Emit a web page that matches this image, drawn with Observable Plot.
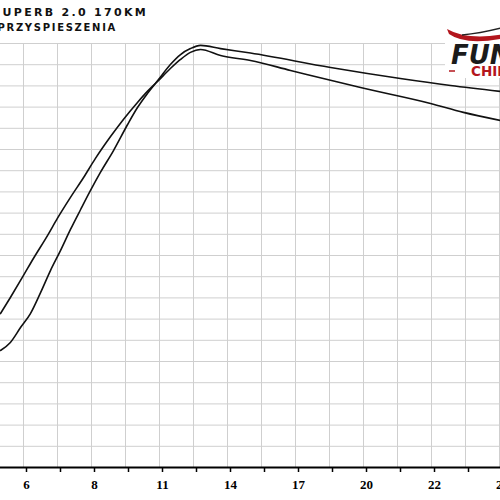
<!DOCTYPE html>
<html>
<head>
<meta charset="utf-8">
<script src="https://cdn.jsdelivr.net/npm/d3@7"></script>
<script src="https://cdn.jsdelivr.net/npm/@observablehq/plot@0.6"></script>
<style>
  html, body { margin: 0; padding: 0; background: white; overflow: hidden; }
  #chart { width: 500px; height: 500px; overflow: hidden; }
</style>
</head>
<body>
<div id="chart"></div>
<script>
// Curve 1: starts lower on the left, peaks higher
const curve1X = [4.82, 5.22, 5.63, 6.03, 6.44, 6.84, 7.25, 7.65, 8.06, 8.46, 8.86, 9.39, 9.96, 10.36, 10.76, 11.21, 11.69, 12.10, 12.50, 12.91, 13.72, 14.93, 18.17, 20.99, 23.02, 25.04];
const curve1Y = [5.52, 5.90, 6.60, 7.26, 8.25, 9.29, 10.24, 11.23, 12.17, 13.07, 13.92, 14.95, 16.18, 16.98, 17.64, 18.30, 19.01, 19.48, 19.76, 19.91, 19.76, 19.55, 18.87, 18.35, 18.02, 17.74];
// Curve 2: starts higher on the left, peaks lower
const curve2X = [4.82, 5.22, 5.75, 6.15, 6.72, 7.12, 7.65, 8.18, 8.66, 9.27, 9.79, 10.36, 10.76, 11.17, 11.69, 12.10, 12.50, 12.91, 13.72, 14.93, 16.55, 19.38, 22.21, 23.54, 25.04];
const curve2Y = [7.26, 8.02, 9.06, 9.86, 10.94, 11.75, 12.74, 13.68, 14.58, 15.61, 16.42, 17.22, 17.74, 18.21, 18.82, 19.25, 19.58, 19.72, 19.43, 19.20, 18.73, 17.92, 17.17, 16.75, 16.37];

const xGrid = [5.75, 7.125, 8.5, 9.875, 11.25, 12.625, 14, 15.375, 16.75, 18.125, 19.5, 20.875, 22.25, 23.625, 25];
const xTickValues = [5.75, 8.5, 11.25, 14, 16.75, 19.5, 22.25, 25];
const xTickLabels = ["6", "8", "11", "14", "17", "20", "22", "25"];
const yGrid = [0,1,2,3,4,5,6,7,8,9,10,11,12,13,14,15,16,17,18,19,20];

const titleText = "SKODA SUPERB 2.0 170KM";
const subtitleText = "WYKRES PRZYSPIESZENIA";

const series1 = curve1X.map((x, i) => ({x, y: curve1Y[i]}));
const series2 = curve2X.map((x, i) => ({x, y: curve2Y[i]}));
const labelMap = new Map(xTickValues.map((v, i) => [v, xTickLabels[i]]));

const plot = Plot.plot({
  width: 500,
  height: 500,
  marginTop: 43,
  marginBottom: 33,
  marginLeft: 0,
  marginRight: 0,
  x: {domain: [4.82, 25.04]},
  y: {domain: [0, 20], axis: null},
  style: {background: "white"},
  marks: [
    Plot.ruleX(xGrid, {stroke: "#cfcfcf", strokeWidth: 1}),
    Plot.ruleY(yGrid, {stroke: "#cfcfcf", strokeWidth: 1}),
    Plot.axisX({
      ticks: xGrid,
      tickSize: 5,
      tickPadding: 7,
      tickFormat: d => labelMap.get(d) ?? "",
      stroke: "black",
      strokeWidth: 1.5,
      fill: "black",
      fontSize: 13,
      fontWeight: "bold",
      fontFamily: "Liberation Serif",
      dx: 3,
      label: null
    }),
    Plot.ruleY([0], {stroke: "black", strokeWidth: 2}),
    Plot.line(series1, {x: "x", y: "y", stroke: "#111", strokeWidth: 1.6, curve: "monotone-x", clip: true}),
    Plot.line(series2, {x: "x", y: "y", stroke: "#111", strokeWidth: 1.6, curve: "monotone-x", clip: true})
  ]
});

document.getElementById("chart").appendChild(plot);

const svg = d3.select(plot);
svg.append("text")
  .attr("x", 148).attr("y", 15.5)
  .attr("text-anchor", "end")
  .attr("font-family", "DejaVu Sans")
  .attr("font-weight", "bold")
  .attr("font-size", 11)
  .attr("letter-spacing", 2.3)
  .attr("fill", "#111")
  .text(titleText);
svg.append("text")
  .attr("x", 117).attr("y", 30.5)
  .attr("text-anchor", "end")
  .attr("font-family", "DejaVu Sans")
  .attr("font-weight", "bold")
  .attr("font-size", 10)
  .attr("letter-spacing", 1.7)
  .attr("fill", "#111")
  .text(subtitleText);

// Logo
const logo = svg.append("g");
logo.append("rect").attr("x", 445).attr("y", 24).attr("width", 60).attr("height", 54).attr("fill", "white");
logo.append("path").attr("d", "M447,29 Q468,41 505,34 L505,38 Q466,46 449,34 Z").attr("fill", "#b3161d");
logo.append("path").attr("d", "M462,35 Q482,33 505,27").attr("stroke", "#222").attr("stroke-width", 1.5).attr("fill", "none");
logo.append("text")
  .attr("x", 451).attr("y", 64)
  .attr("text-anchor", "start")
  .attr("font-family", "DejaVu Sans")
  .attr("font-weight", "bold")
  .attr("font-style", "italic")
  .attr("font-size", 26)
  .attr("fill", "#1b1b1b")
  .text("FUN");
logo.append("text")
  .attr("x", 471).attr("y", 76)
  .attr("text-anchor", "start")
  .attr("font-family", "DejaVu Sans")
  .attr("font-weight", "bold")
  .attr("font-size", 13.5)
  .attr("fill", "#b3161d")
  .text("CHIP");
logo.append("line").attr("x1", 449).attr("x2", 455).attr("y1", 71).attr("y2", 71).attr("stroke", "#b3161d").attr("stroke-width", 1.5);
</script>
</body>
</html>
